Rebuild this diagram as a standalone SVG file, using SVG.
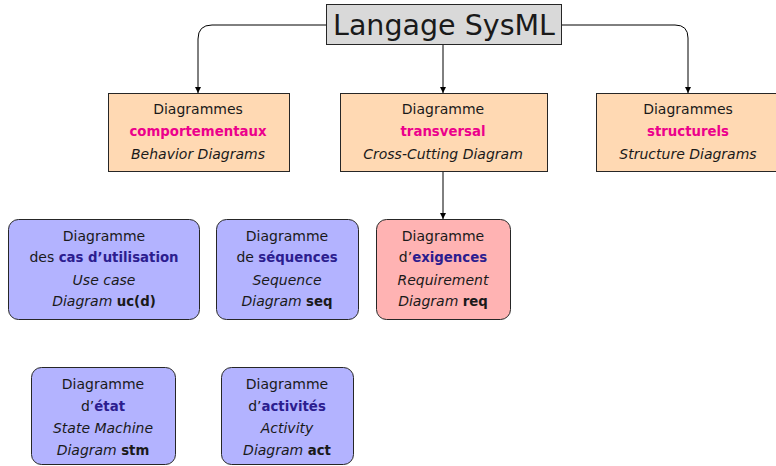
<svg xmlns="http://www.w3.org/2000/svg" width="776" height="466" viewBox="0 0 776 466">
  <style>
    text { font-family: "DejaVu Sans", "Liberation Sans", sans-serif; font-size: 14px; fill: #1a1a1a; text-anchor: middle; }
    .title { font-size: 28.5px; }
    .it { font-style: italic; font-size: 14px; }
    .b { font-weight: bold; font-size: 13.3px; }
    .mag { font-weight: bold; font-size: 13.3px; fill: #ec008c; }
    .blu { font-weight: bold; font-size: 13.3px; fill: #2c1d8f; }
    .cat { fill: #ffd9b3; stroke: #262626; stroke-width: 1; }
    .leaf { fill: #b3b3ff; stroke: #262626; stroke-width: 1; }
    .req { fill: #ffb3b3; stroke: #262626; stroke-width: 1; }
    .link { fill: none; stroke: #000; stroke-width: 1; marker-end: url(#tip); }
  </style>
  <defs>
    <marker id="tip" viewBox="0 0 10 10" refX="10" refY="5" markerWidth="6" markerHeight="7" markerUnits="userSpaceOnUse" orient="auto">
      <path d="M0,0 L10,5 L0,10 Z" fill="#000"/>
    </marker>
  </defs>

  <!-- connectors -->
  <g id="connectors">
    <path class="link" d="M326,25 H212 Q198,25 198,39 V93"/>
    <path class="link" d="M443,44 V93"/>
    <path class="link" d="M561,25 H675 Q688,25 688,38 V93"/>
    <path class="link" d="M443,171 V219"/>
  </g>

  <g id="root">
    <rect x="326.5" y="4.5" width="235" height="40" fill="#d9d9d9" stroke="#262626"/>
    <text class="title" x="444" y="34.5">Langage SysML</text>
  </g>

  <g id="behavior">
    <rect class="cat" x="108.5" y="93.5" width="181" height="78"/>
    <text x="198" y="114">Diagrammes</text>
    <text class="mag" x="198" y="136">comportementaux</text>
    <text class="it" x="198" y="159">Behavior Diagrams</text>
  </g>

  <g id="crosscutting">
    <rect class="cat" x="340.5" y="93.5" width="207" height="78"/>
    <text x="443" y="114">Diagramme</text>
    <text class="mag" x="443" y="136">transversal</text>
    <text class="it" x="443" y="159">Cross-Cutting Diagram</text>
  </g>

  <g id="structure">
    <rect class="cat" x="596.5" y="93.5" width="185" height="78"/>
    <text x="688" y="114">Diagrammes</text>
    <text class="mag" x="688" y="136">structurels</text>
    <text class="it" x="688" y="159">Structure Diagrams</text>
  </g>

  <g id="usecase">
    <rect class="leaf" x="8.5" y="219.5" width="191" height="100" rx="10"/>
    <text x="104" y="241">Diagramme</text>
    <text x="104" y="262">des <tspan class="blu">cas d’utilisation</tspan></text>
    <text class="it" x="104" y="285">Use case</text>
    <text x="104" y="306"><tspan class="it">Diagram</tspan> <tspan class="b">uc(d)</tspan></text>
  </g>

  <g id="sequence">
    <rect class="leaf" x="216.5" y="219.5" width="142" height="100" rx="10"/>
    <text x="287" y="241">Diagramme</text>
    <text x="287" y="262">de <tspan class="blu">séquences</tspan></text>
    <text class="it" x="287" y="285">Sequence</text>
    <text x="287" y="306"><tspan class="it">Diagram</tspan> <tspan class="b">seq</tspan></text>
  </g>

  <g id="requirement">
    <rect class="req" x="376.5" y="219.5" width="134" height="100" rx="10"/>
    <text x="443" y="241">Diagramme</text>
    <text x="443" y="262">d’<tspan class="blu">exigences</tspan></text>
    <text class="it" x="443" y="285">Requirement</text>
    <text x="443" y="306"><tspan class="it">Diagram</tspan> <tspan class="b">req</tspan></text>
  </g>

  <g id="statemachine">
    <rect class="leaf" x="31.5" y="367.5" width="144" height="97" rx="10"/>
    <text x="103" y="389">Diagramme</text>
    <text x="103" y="411">d’<tspan class="blu">état</tspan></text>
    <text class="it" x="103" y="433">State Machine</text>
    <text x="103" y="455"><tspan class="it">Diagram</tspan> <tspan class="b">stm</tspan></text>
  </g>

  <g id="activity">
    <rect class="leaf" x="221.5" y="367.5" width="132" height="97" rx="10"/>
    <text x="287" y="389">Diagramme</text>
    <text x="287" y="411">d’<tspan class="blu">activités</tspan></text>
    <text class="it" x="287" y="433">Activity</text>
    <text x="287" y="455"><tspan class="it">Diagram</tspan> <tspan class="b">act</tspan></text>
  </g>
</svg>
